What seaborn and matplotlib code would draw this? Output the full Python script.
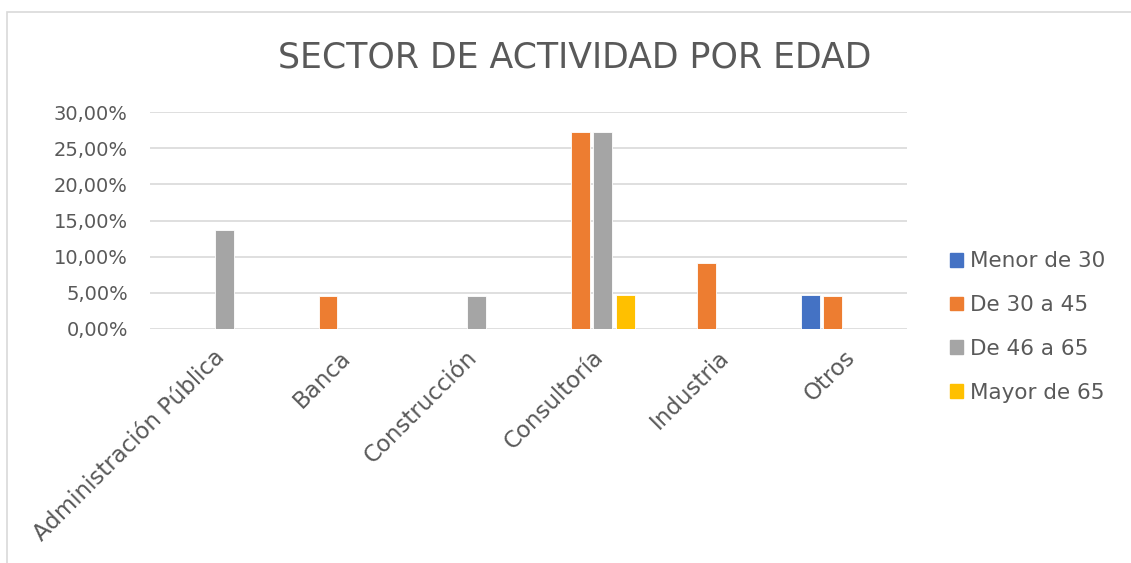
import matplotlib
matplotlib.use("Agg")
import matplotlib.pyplot as plt
import pandas as pd
import seaborn as sns
from matplotlib.patches import Rectangle
from matplotlib.ticker import FuncFormatter

# Data
sectores = ["Administración Pública", "Banca", "Construcción", "Consultoría", "Industria", "Otros"]
edades = ["Menor de 30", "De 30 a 45", "De 46 a 65", "Mayor de 65"]
menor_30 = [0, 0, 0, 0, 0, 4.76]
de_30_45 = [0, 4.55, 0, 27.27, 9.09, 4.55]
de_46_65 = [13.64, 0, 4.55, 27.27, 0, 0]
mayor_65 = [0, 0, 0, 4.76, 0, 0]
colores = ["#4472C4", "#ED7D31", "#A5A5A5", "#FFC000"]

rows = []
for edad, vals in zip(edades, [menor_30, de_30_45, de_46_65, mayor_65]):
    for s, v in zip(sectores, vals):
        rows.append({"Sector": s, "Edad": edad, "Valor": v})
df = pd.DataFrame(rows)

sns.set_style("white")
plt.rcParams["font.family"] = ["DejaVu Sans"]
text_color = "#595959"

fig = plt.figure(figsize=(11.31, 5.63), dpi=100)
ax = fig.add_axes([150 / 1131, 1 - 329 / 563, 757 / 1131, 217 / 563])

sns.barplot(data=df, x="Sector", y="Valor", hue="Edad", hue_order=edades,
            palette=colores, saturation=1, width=0.714, gap=0.16, ax=ax, legend=False,
            edgecolor="white", linewidth=0.6)

ax.set_ylim(0, 30)
ax.set_yticks(range(0, 31, 5))
ax.yaxis.set_major_formatter(FuncFormatter(lambda v, p: f"{v:.2f}%".replace(".", ",")))
ax.grid(axis="y", color="#d9d9d9", linewidth=1.2)
ax.set_axisbelow(True)
for sp in ax.spines.values():
    sp.set_visible(False)
ax.set_xlabel("")
ax.set_ylabel("")
ax.tick_params(axis="y", labelsize=14, colors=text_color, length=0, pad=16)
ax.tick_params(axis="x", labelsize=16.5, colors=text_color, length=0, pad=12)
plt.setp(ax.get_xticklabels(), rotation=45, ha="right", rotation_mode="anchor")

fig.text(575 / 1131, 1 - 57 / 563, "SECTOR DE ACTIVIDAD POR EDAD", ha="center", va="center",
         fontsize=25, color=text_color)

handles = [Rectangle((0, 0), 1, 1, color=c) for c in colores]
fig.legend(handles, edades, loc="center left", bbox_to_anchor=(931 / 1131, 1 - 327 / 563),
           frameon=False, fontsize=15.5, labelcolor=text_color, handlelength=0.6,
           handleheight=0.6, handletextpad=0.3, labelspacing=1.1)

# chart area frame
fig.patches.append(Rectangle((7 / 1131, -0.1), 1.1, 1.1 - 12 / 563, transform=fig.transFigure,
                             fill=False, edgecolor="#d9d9d9", linewidth=1.2))

fig.savefig("out.png", dpi=100)
